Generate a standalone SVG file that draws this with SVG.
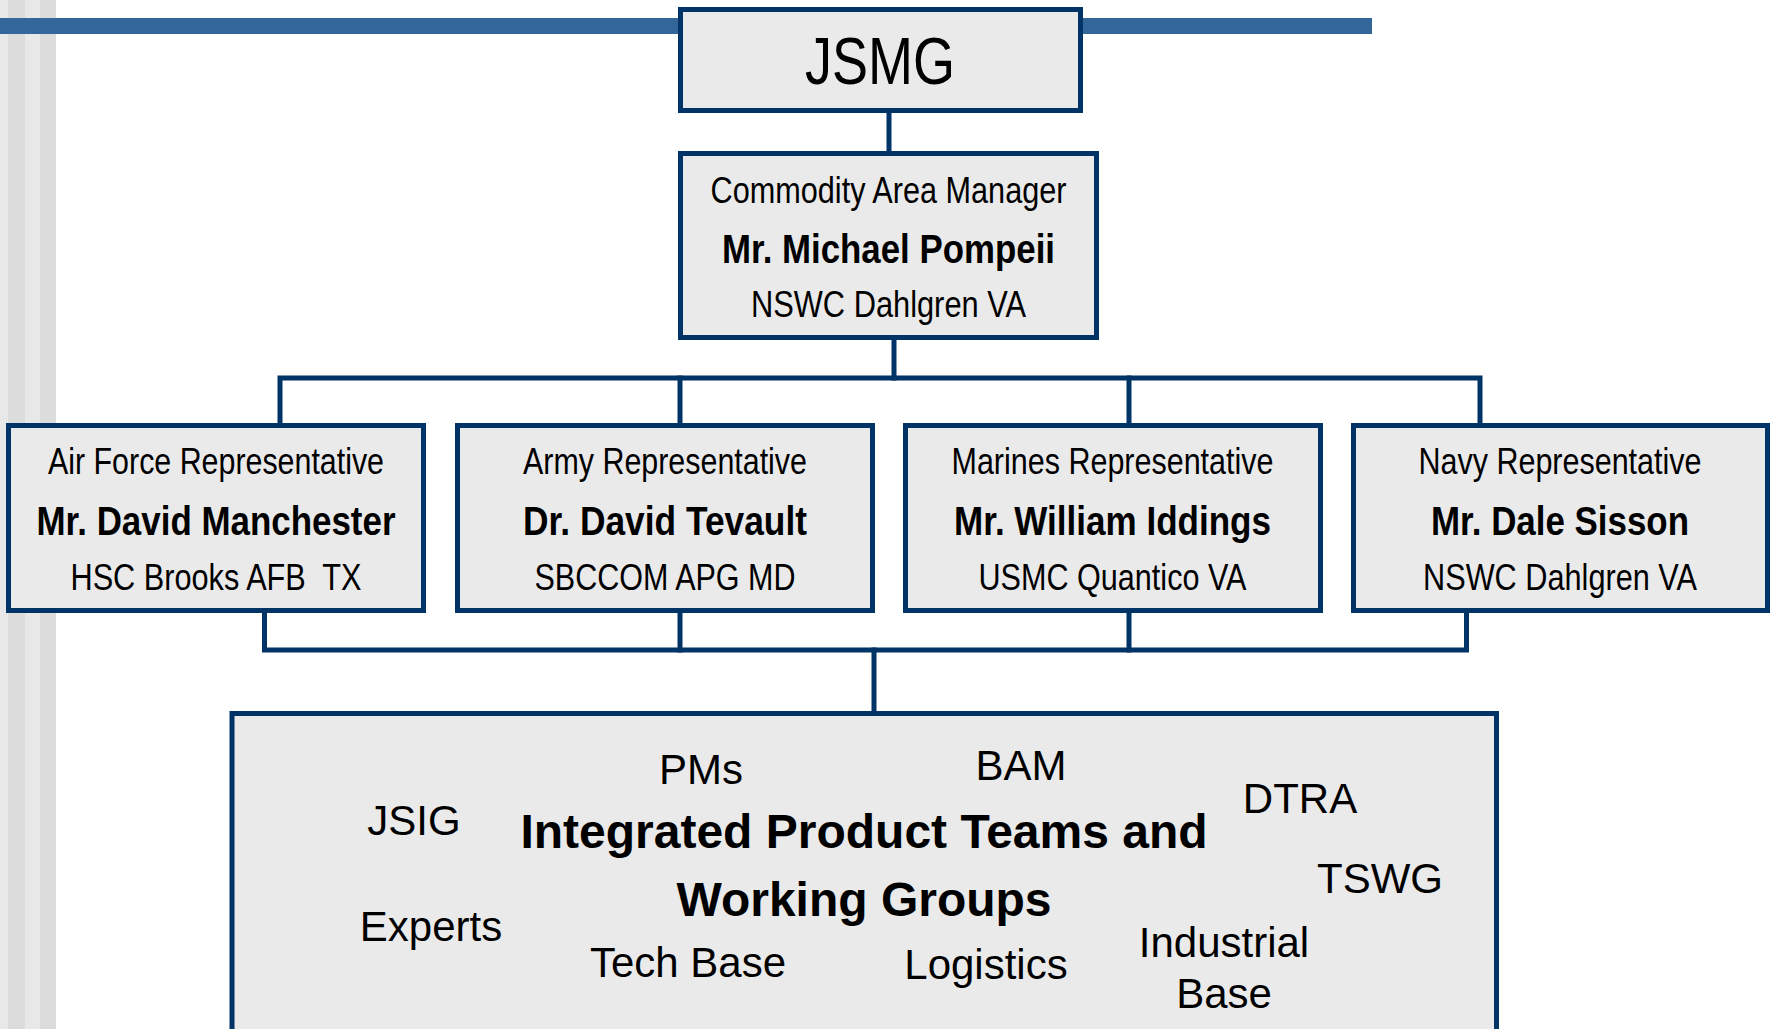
<svg xmlns="http://www.w3.org/2000/svg" width="1772" height="1029" viewBox="0 0 1772 1029">
<style>
.box{fill:#eaeaea;stroke:#003366;stroke-width:5}
.ln{fill:none;stroke:#003366;stroke-width:5;stroke-linecap:square}
.n{font-family:"Liberation Sans Narrow","Arial Narrow","Liberation Sans",Arial,sans-serif;fill:#000;text-anchor:middle}
.r{font-size:37px}
.b{font-size:41px;font-weight:bold}
.w{font-family:"Liberation Sans",Arial,sans-serif;fill:#000;text-anchor:middle;font-size:42px}
.wb{font-family:"Liberation Sans",Arial,sans-serif;fill:#000;text-anchor:middle;font-size:48px;font-weight:bold}
</style>
<rect x="0" y="0" width="1772" height="1029" fill="#fff"/>
<g id="background">
<rect x="0" y="0" width="8" height="1029" fill="#e8e8e8"/>
<rect x="8" y="0" width="17" height="1029" fill="#dcdcdc"/>
<rect x="25" y="0" width="15" height="1029" fill="#e8e8e8"/>
<rect x="40" y="0" width="16" height="1029" fill="#dcdcdc"/>
<rect x="0" y="18" width="1372" height="16" fill="#336699"/>
</g>
<g id="connectors">
<path class="ln" d="M889 110 V153"/>
<path class="ln" d="M894 337 V378"/>
<path class="ln" d="M280 425 V378 H1480 V425"/>
<path class="ln" d="M680 378 V425"/>
<path class="ln" d="M1129 378 V425"/>
<path class="ln" d="M264.5 610 V650 H1466.5 V610"/>
<path class="ln" d="M680 610 V650"/>
<path class="ln" d="M1129 610 V650"/>
<path class="ln" d="M874 650 V713"/>
</g>
<g id="jsmg">
<rect class="box" x="680.5" y="9.5" width="400" height="101"/>
<text class="n" x="880" y="84" font-size="66" textLength="150" lengthAdjust="spacingAndGlyphs">JSMG</text>
</g>
<g id="cam">
<rect class="box" x="680.5" y="153.5" width="416" height="184"/>
<text class="n r" x="888.5" y="203" textLength="356" lengthAdjust="spacingAndGlyphs">Commodity Area Manager</text>
<text class="n b" x="888.5" y="263" textLength="333" lengthAdjust="spacingAndGlyphs">Mr. Michael Pompeii</text>
<text class="n r" x="888.5" y="317" textLength="275" lengthAdjust="spacingAndGlyphs">NSWC Dahlgren VA</text>
</g>
<g id="airforce">
<rect class="box" x="8.5" y="425.5" width="415" height="185"/>
<text class="n r" x="216" y="474" textLength="336" lengthAdjust="spacingAndGlyphs">Air Force Representative</text>
<text class="n b" x="216" y="535" textLength="359" lengthAdjust="spacingAndGlyphs">Mr. David Manchester</text>
<text class="n r" x="216" y="590" textLength="291" lengthAdjust="spacingAndGlyphs" xml:space="preserve">HSC Brooks AFB  TX</text>
</g>
<g id="army">
<rect class="box" x="457.5" y="425.5" width="415" height="185"/>
<text class="n r" x="665" y="474" textLength="284" lengthAdjust="spacingAndGlyphs">Army Representative</text>
<text class="n b" x="665" y="535" textLength="284" lengthAdjust="spacingAndGlyphs">Dr. David Tevault</text>
<text class="n r" x="665" y="590" textLength="261" lengthAdjust="spacingAndGlyphs">SBCCOM APG MD</text>
</g>
<g id="marines">
<rect class="box" x="905.5" y="425.5" width="415" height="185"/>
<text class="n r" x="1112.5" y="474" textLength="322" lengthAdjust="spacingAndGlyphs">Marines Representative</text>
<text class="n b" x="1112.5" y="535" textLength="317" lengthAdjust="spacingAndGlyphs">Mr. William Iddings</text>
<text class="n r" x="1112.5" y="590" textLength="268" lengthAdjust="spacingAndGlyphs">USMC Quantico VA</text>
</g>
<g id="navy">
<rect class="box" x="1353.5" y="425.5" width="414" height="185"/>
<text class="n r" x="1560" y="474" textLength="283" lengthAdjust="spacingAndGlyphs">Navy Representative</text>
<text class="n b" x="1560" y="535" textLength="258" lengthAdjust="spacingAndGlyphs">Mr. Dale Sisson</text>
<text class="n r" x="1560" y="590" textLength="274" lengthAdjust="spacingAndGlyphs">NSWC Dahlgren VA</text>
</g>
<g id="ipt">
<rect class="box" x="232" y="713.5" width="1264.5" height="340"/>
<text class="w" x="701" y="784">PMs</text>
<text class="w" x="1021" y="780">BAM</text>
<text class="w" x="414" y="835">JSIG</text>
<text class="w" x="1300" y="813">DTRA</text>
<text class="wb" x="864" y="848">Integrated Product Teams and</text>
<text class="wb" x="864" y="916">Working Groups</text>
<text class="w" x="1380" y="893">TSWG</text>
<text class="w" x="431" y="941">Experts</text>
<text class="w" x="688" y="977">Tech Base</text>
<text class="w" x="986" y="979">Logistics</text>
<text class="w" x="1224" y="957">Industrial</text>
<text class="w" x="1224" y="1008">Base</text>
</g>
</svg>
